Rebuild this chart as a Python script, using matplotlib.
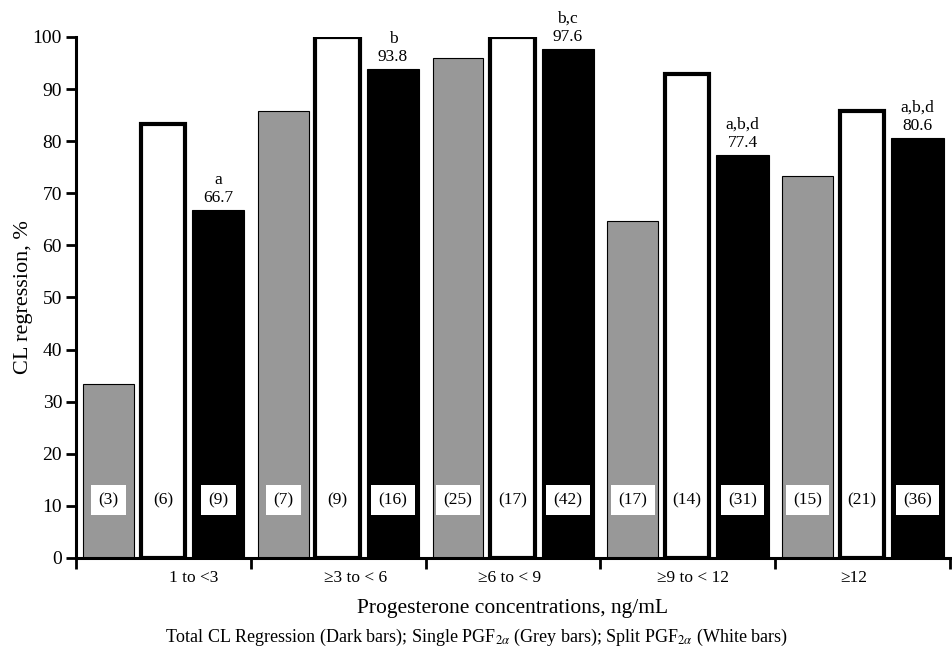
import numpy as np
import matplotlib
matplotlib.use('Agg')
import matplotlib.pyplot as plt

# progesterone groups and CL regression (%) per treatment
groups = ['1 to <3', '\u22653 to < 6', '\u22656 to < 9', '\u22659 to < 12', '\u226512']
single_pgf = [33.3, 85.7, 96.0, 64.7, 73.3]    # grey bars
split_pgf = [83.3, 100.0, 100.0, 92.9, 85.7]   # white bars
total_cl = [66.7, 93.8, 97.6, 77.4, 80.6]      # dark bars
n_single = [3, 7, 25, 17, 15]
n_split = [6, 9, 17, 14, 21]
n_total = [9, 16, 42, 31, 36]
sig_letters = ['a', 'b', 'b,c', 'a,b,d', 'a,b,d']

# group labels are not quite centred under each group
label_shift = [0.175, 0.10, -0.02, 0.03, -0.05]

plt.rcParams['font.family'] = ['Liberation Serif', 'DejaVu Serif']
plt.rcParams['mathtext.fontset'] = 'stix'

fig = plt.figure(figsize=(9.52, 6.58), dpi=100)
ax = fig.add_axes([0.0798, 0.152, 0.918, 0.7918])

x = np.arange(len(groups))
ax.bar(x + 0.186, single_pgf, width=0.29, color='#989898', edgecolor='black', linewidth=0.8)
ax.bar(x + 0.497, split_pgf, width=0.255, color='white', edgecolor='black', linewidth=3.0)
ax.bar(x + 0.814, total_cl, width=0.30, color='black', edgecolor='black', linewidth=0.8)

# sample sizes in white boxes
box = dict(boxstyle='square,pad=0.42', fc='white', ec='none')
for i in range(len(groups)):
    ax.text(x[i] + 0.186, 11.1, '(%d)' % n_single[i], ha='center', va='center',
            fontsize=12.5, bbox=box)
    ax.text(x[i] + 0.497, 11.1, '(%d)' % n_split[i], ha='center', va='center',
            fontsize=12.5)
    ax.text(x[i] + 0.814, 11.1, '(%d)' % n_total[i], ha='center', va='center',
            fontsize=12.5, bbox=box)
    ax.text(x[i] + 0.814, total_cl[i] + 0.8, '%s\n%.1f' % (sig_letters[i], total_cl[i]),
            ha='center', va='bottom', fontsize=12.5, linespacing=1.2)

ax.set_xlim(0, len(groups))
ax.set_ylim(0, 100)
ax.set_yticks(np.arange(0, 101, 10))
ax.set_xticks(np.arange(0, len(groups) + 1))
ax.set_xticklabels([])
ax.set_xticks(x + 0.5 + np.array(label_shift), minor=True)
ax.set_xticklabels(groups, minor=True, fontsize=12.5)
ax.tick_params(axis='x', which='minor', length=0, pad=9)
ax.tick_params(axis='x', which='major', length=8, width=2, direction='out')
ax.tick_params(axis='y', length=7, width=2, labelsize=14, pad=3)

for s in ['top', 'right']:
    ax.spines[s].set_visible(False)
for s in ['left', 'bottom']:
    ax.spines[s].set_linewidth(2.2)

ax.set_ylabel('CL regression, %', fontsize=16, labelpad=0)
ax.set_xlabel('Progesterone concentrations, ng/mL', fontsize=15.5, labelpad=9)

fig.text(0.5, 0.032,
         r'Total CL Regression (Dark bars); Single PGF$_{2\alpha}$ (Grey bars); '
         r'Split PGF$_{2\alpha}$ (White bars)',
         ha='center', va='center', fontsize=13)

fig.savefig('out.png', dpi=100)
